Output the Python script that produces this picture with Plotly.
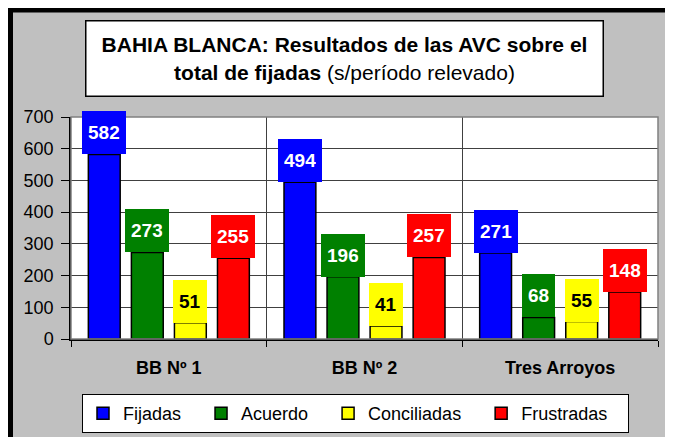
import plotly.graph_objects as go

# 資料
categories = ['BB Nº 1', 'BB Nº 2', 'Tres Arroyos']
series_names = ['Fijadas', 'Acuerdo', 'Conciliadas', 'Frustradas']
fijadas = [582, 494, 271]
acuerdo = [273, 196, 68]
conciliadas = [51, 41, 55]
frustradas = [255, 257, 148]
y_ticks = [0, 100, 200, 300, 400, 500, 600, 700]

colors = ['#0000FF', '#008000', '#FFFF00', '#FF0000']
label_colors = ['white', 'white', 'black', 'white']
values = [fijadas, acuerdo, conciliadas, frustradas]

FONT = 'Liberation Sans, Arial, sans-serif'
W, H = 673, 437
M = dict(l=63, r=23, t=109, b=106, autoexpand=False)
BARGAP = 0.12
BARGROUPGAP = 0.26

plot_w = W - M['l'] - M['r']
plot_h = H - M['t'] - M['b']
slot = plot_w / len(categories) * (1 - BARGAP) / len(series_names)


def px_x(px):
    # 圖面像素 -> paper 座標
    return (px - M['l']) / plot_w


def px_y(py):
    return (H - M['b'] - py) / plot_h


fig = go.Figure()

NBSP = '\u00a0' * 3
for name, vals, col in zip(series_names, values, colors):
    fig.add_trace(go.Bar(
        x=categories,
        y=vals,
        name=name + NBSP,
        marker=dict(color=col, line=dict(color='black', width=1.5)),
    ))

# 資料標籤（彩色方塊）
annotations = []
for i, (vals, col, tcol) in enumerate(zip(values, colors, label_colors)):
    shift = (i - (len(series_names) - 1) / 2) * slot
    for cat, v in zip(categories, vals):
        annotations.append(dict(
            x=cat, y=v, xref='x', yref='y',
            xanchor='center', yanchor='bottom',
            xshift=shift, yshift=0,
            text='<b>%d</b>' % v,
            showarrow=False,
            bgcolor=col, borderpad=6, borderwidth=0,
            height=31,
            font=dict(family=FONT, size=19, color=tcol),
        ))

# 標題方框
annotations.append(dict(
    x=px_x(336), y=px_y(50.5),
    xref='paper', yref='paper', xanchor='center', yanchor='middle',
    text='<b>BAHIA BLANCA: Resultados de las AVC sobre el</b><br>'
         '<b>total de fijadas</b> (s/período relevado)',
    showarrow=False, align='center',
    bgcolor='white', bordercolor='black', borderwidth=1.5,
    width=514, height=72,
    font=dict(family=FONT, size=21, color='black'),
))

shapes = [
    # 外框
    dict(type='rect', xref='paper', yref='paper', layer='below',
         x0=px_x(2.5), x1=px_x(670.5), y0=px_y(434.5), y1=px_y(2),
         line=dict(color='black', width=5)),
    # 繪圖區邊框
    dict(type='rect', xref='paper', yref='paper', layer='above',
         x0=0, x1=1, y0=0, y1=1,
         line=dict(color='#808080', width=1.5)),
]

fig.update_layout(
    width=W, height=H,
    margin=M,
    barmode='group',
    bargap=BARGAP,
    bargroupgap=BARGROUPGAP,
    paper_bgcolor='#C0C0C0',
    plot_bgcolor='white',
    font=dict(family=FONT, color='black'),
    showlegend=True,
    legend=dict(
        orientation='h',
        x=px_x(74), y=px_y(386),
        xanchor='left', yanchor='top',
        bgcolor='white', bordercolor='black', borderwidth=1,
        font=dict(family=FONT, size=18),
        itemwidth=30,
        traceorder='normal',
    ),
    annotations=annotations,
    shapes=shapes,
)

fig.update_xaxes(
    type='category',
    tickson='boundaries',
    showgrid=True, gridcolor='#404040', gridwidth=1,
    showline=True, linecolor='black', linewidth=1.5,
    ticks='outside', ticklen=6, tickcolor='black',
    tickfont=dict(family=FONT, size=18),
    ticklabelstandoff=12,
    tickprefix='<b>', ticksuffix='</b>',
    automargin=False,
)

fig.update_yaxes(
    range=[0, 700],
    tickvals=y_ticks,
    showgrid=True, gridcolor='#404040', gridwidth=1,
    showline=True, linecolor='black', linewidth=1.5,
    ticks='outside', ticklen=8, tickcolor='black',
    tickfont=dict(family=FONT, size=18),
    ticklabelstandoff=4,
    zeroline=False,
    automargin=False,
)

fig.write_html('out.html')
